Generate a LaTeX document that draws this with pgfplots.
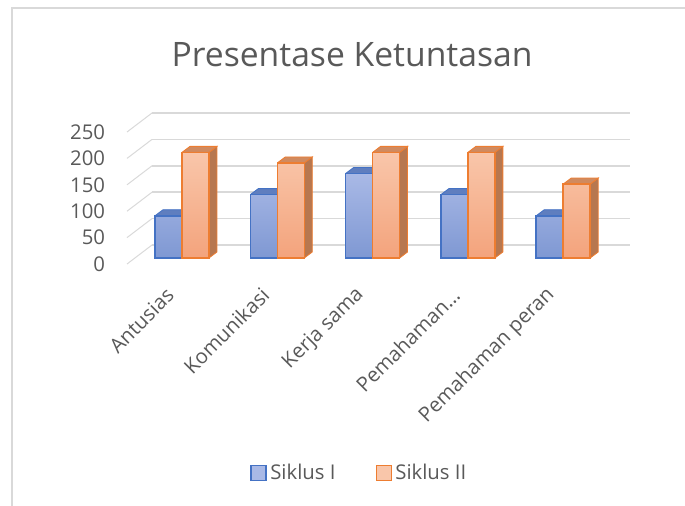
\documentclass[border=0pt]{standalone}
\usepackage{pgfplots}
\pgfplotsset{compat=1.18}
\usepackage{fontspec}
\setmainfont{Open Sans}
\definecolor{txt}{HTML}{595959}
\definecolor{gridc}{HTML}{D9D9D9}
\definecolor{bluetop}{HTML}{A9B9E6}
\definecolor{bluebot}{HTML}{7F98D3}
\definecolor{blueb}{HTML}{4472C4}
\definecolor{bluecap}{HTML}{5F7EBF}
\definecolor{ortop}{HTML}{F9C6AA}
\definecolor{orbot}{HTML}{F3A37C}
\definecolor{orb}{HTML}{ED7D31}
\definecolor{orcap}{HTML}{D08A5F}
\definecolor{orside}{HTML}{B7774F}
\begin{document}
\begin{tikzpicture}
\begin{axis}[
  x=57.18pt, y=0.3168pt,
  xmin=-0.577, xmax=4.70, ymin=-11.4, ymax=250,
  clip=false,
  axis line style={draw=none},
  tick style={draw=none},
  /pgf/number format/assume math mode=true,
  ytick={-11.4,38.6,88.6,138.6,188.6,238.6},
  yticklabels={0,50,100,150,200,250},
  yticklabel style={anchor=east, inner sep=0pt, xshift=-13pt, font=\fontsize{12.2}{14}\selectfont, text=txt},
  xtick={0,1,2,3,4},
  xticklabels={Antusias,Komunikasi,Kerja sama,Pemahaman\dots,Pemahaman peran},
  xticklabel style={anchor=east, inner sep=0pt, xshift=-7pt, yshift=-16.5pt, rotate=45, font=\fontsize{12.2}{14}\selectfont, text=txt},
  unbounded coords=jump,
  legend columns=2,
  legend style={at={(axis cs:1.868,-407)}, anchor=center, draw=none, fill=none,
    font=\fontsize{12.2}{14}\selectfont, text=txt,
    /tikz/every even column/.append style={column sep=22pt}},
  legend image code/.code={\draw[#1] (0pt,-4.5pt) rectangle (9pt,4.5pt);},
]
% back wall gridlines
\addplot[gridc, line width=0.9pt, forget plot] coordinates {
 (-0.315,24.6) (4.70,24.6) (0,nan)
 (-0.315,74.6) (4.70,74.6) (0,nan)
 (-0.315,124.6) (4.70,124.6) (0,nan)
 (-0.315,174.6) (4.70,174.6) (0,nan)
 (-0.315,224.6) (4.70,224.6) (0,nan)
 (-0.315,274.6) (4.70,274.6)};
% side wall diagonals
\addplot[gridc, line width=0.6pt, forget plot] coordinates {
 (-0.577,-11.4) (-0.315,24.6) (0,nan)
 (-0.577,38.6) (-0.315,74.6) (0,nan)
 (-0.577,88.6) (-0.315,124.6) (0,nan)
 (-0.577,138.6) (-0.315,174.6) (0,nan)
 (-0.577,188.6) (-0.315,224.6) (0,nan)
 (-0.577,238.6) (-0.315,274.6)};
% Siklus I caps
\addplot[fill=bluecap, draw=blueb, line width=0.5pt, forget plot] coordinates {
 (-0.283,80) (0,80) (0.084,91.4) (-0.199,91.4) (-0.283,80) (0,nan)
 (0.717,120) (1,120) (1.084,131.4) (0.801,131.4) (0.717,120) (0,nan)
 (1.717,160) (2,160) (2.084,171.4) (1.801,171.4) (1.717,160) (0,nan)
 (2.717,120) (3,120) (3.084,131.4) (2.801,131.4) (2.717,120) (0,nan)
 (3.717,80) (4,80) (4.084,91.4) (3.801,91.4) (3.717,80)};
% Siklus I fronts
\addplot[ybar, bar width=0.283, bar shift=-0.1415, top color=bluetop, bottom color=bluebot, draw=blueb, line width=0.9pt, forget plot]
 coordinates {(0,80) (1,120) (2,160) (3,120) (4,80)};
% Siklus II caps and sides
\addplot[fill=orside, draw=orb, line width=0.5pt, forget plot] coordinates {
 (0.283,0) (0.367,11.4) (0.367,211.4) (0.283,200) (0.283,0) (0,nan)
 (1.283,0) (1.367,11.4) (1.367,191.4) (1.283,180) (1.283,0) (0,nan)
 (2.283,0) (2.367,11.4) (2.367,211.4) (2.283,200) (2.283,0) (0,nan)
 (3.283,0) (3.367,11.4) (3.367,211.4) (3.283,200) (3.283,0) (0,nan)
 (4.283,0) (4.367,11.4) (4.367,151.4) (4.283,140) (4.283,0)};
\addplot[fill=orcap, draw=orb, line width=0.5pt, forget plot] coordinates {
 (0,200) (0.283,200) (0.367,211.4) (0.084,211.4) (0,200) (0,nan)
 (1,180) (1.283,180) (1.367,191.4) (1.084,191.4) (1,180) (0,nan)
 (2,200) (2.283,200) (2.367,211.4) (2.084,211.4) (2,200) (0,nan)
 (3,200) (3.283,200) (3.367,211.4) (3.084,211.4) (3,200) (0,nan)
 (4,140) (4.283,140) (4.367,151.4) (4.084,151.4) (4,140)};
% Siklus II fronts
\addplot[ybar, bar width=0.283, bar shift=0.1415, top color=ortop, bottom color=orbot, draw=orb, line width=0.9pt, forget plot]
 coordinates {(0,200) (1,180) (2,200) (3,200) (4,140)};
\addlegendimage{fill=bluetop, draw=blueb, line width=0.9pt}
\addlegendentry{Siklus I}
\addlegendimage{fill=ortop, draw=orb, line width=0.9pt}
\addlegendentry{Siklus II}
% title
\node[text=txt, font=\fontsize{20.2}{24}\selectfont] at (axis cs:1.784,384.5) {Presentase Ketuntasan};
% chart border
\draw[gridc, line width=0.9pt] (axis cs:5.278,473.5) -- (axis cs:-1.784,473.5) -- (axis cs:-1.784,-469.7);
\coordinate (bl) at (axis cs:-1.9098,-469.7);
\coordinate (tr) at (axis cs:5.278,488.6);
\end{axis}
\pgfresetboundingbox
\path (bl) rectangle (tr);
\end{tikzpicture}
\end{document}
